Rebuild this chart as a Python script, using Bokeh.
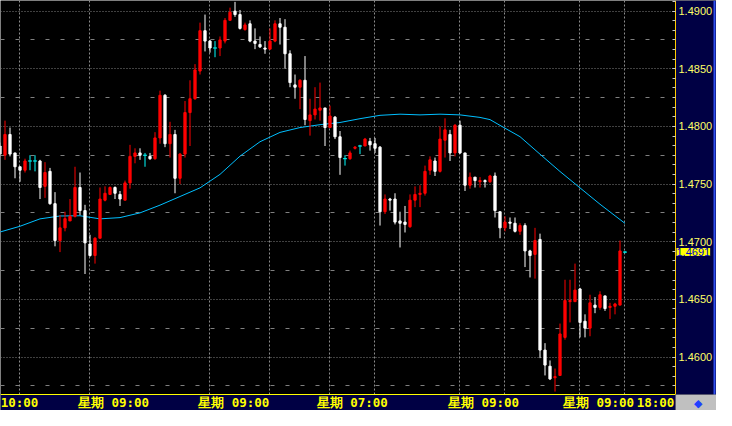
import numpy as np
from bokeh.plotting import figure
from bokeh.models import (ColumnDataSource, LinearAxis, FixedTicker, SingleIntervalTicker,
                          Grid, Label, Range1d, PrintfTickFormatter, BoxAnnotation)
from bokeh.embed import file_html
from bokeh.resources import INLINE

# ---------------- data ----------------
opens = [1.4783, 1.4775, 1.4793, 1.4777, 1.4765, 1.4762, 1.4770, 1.4770, 1.4770, 1.4748,
         1.4761, 1.4733, 1.4701, 1.4712, 1.4718, 1.4722, 1.4747, 1.4727, 1.4698, 1.4688,
         1.4703, 1.4736, 1.4741, 1.4747, 1.4741, 1.4736, 1.4751, 1.4774, 1.4777, 1.4775,
         1.4774, 1.4772, 1.4790, 1.4827, 1.4785, 1.4793, 1.4755, 1.4776, 1.4812, 1.4824,
         1.4848, 1.4883, 1.4874, 1.4868, 1.4868, 1.4874, 1.4892, 1.4900, 1.4897, 1.4884,
         1.4889, 1.4874, 1.4871, 1.4868, 1.4867, 1.4874, 1.4889, 1.4886, 1.4863, 1.4836,
         1.4834, 1.4840, 1.4805, 1.4810, 1.4814, 1.4816, 1.4799, 1.4808, 1.4791, 1.4772,
         1.4772, 1.4781, 1.4783, 1.4783, 1.4787, 1.4785, 1.4782, 1.4726, 1.4737, 1.4737,
         1.4718, 1.4717, 1.4713, 1.4736, 1.4741, 1.4742, 1.4762, 1.4770, 1.4761, 1.4788,
         1.4793, 1.4777, 1.4801, 1.4777, 1.4749, 1.4756, 1.4752, 1.4753, 1.4752, 1.4757,
         1.4726, 1.4712, 1.4717, 1.4716, 1.4709, 1.4714, 1.4692, 1.4689, 1.4702, 1.4606,
         1.4592, 1.4582, 1.4584, 1.4617, 1.4648, 1.4648, 1.4659, 1.4631, 1.4625, 1.4645,
         1.4643, 1.4653, 1.4643, 1.4644, 1.4645, 1.4691]
highs = [1.4786, 1.4805, 1.4799, 1.4777, 1.4765, 1.4772, 1.4775, 1.4775, 1.4771, 1.4769,
         1.4764, 1.4743, 1.4723, 1.4726, 1.4737, 1.4765, 1.4760, 1.4732, 1.4706, 1.4704,
         1.4747, 1.4748, 1.4748, 1.4748, 1.4744, 1.4753, 1.4784, 1.4781, 1.4781, 1.4777,
         1.4777, 1.4795, 1.4831, 1.4828, 1.4804, 1.4797, 1.4777, 1.4822, 1.4840, 1.4854,
         1.4890, 1.4897, 1.4875, 1.4874, 1.4878, 1.4894, 1.4903, 1.4908, 1.4901, 1.4890,
         1.4892, 1.4885, 1.4878, 1.4874, 1.4885, 1.4892, 1.4894, 1.4893, 1.4866, 1.4845,
         1.4841, 1.4861, 1.4824, 1.4834, 1.4838, 1.4816, 1.4818, 1.4809, 1.4796, 1.4775,
         1.4779, 1.4783, 1.4784, 1.4790, 1.4790, 1.4790, 1.4783, 1.4741, 1.4738, 1.4742,
         1.4726, 1.4731, 1.4741, 1.4748, 1.4749, 1.4766, 1.4774, 1.4773, 1.4800, 1.4807,
         1.4797, 1.4802, 1.4805, 1.4777, 1.4760, 1.4756, 1.4756, 1.4754, 1.4758, 1.4760,
         1.4726, 1.4722, 1.4721, 1.4721, 1.4716, 1.4716, 1.4693, 1.4712, 1.4707, 1.4612,
         1.4597, 1.4590, 1.4629, 1.4667, 1.4667, 1.4681, 1.4660, 1.4637, 1.4654, 1.4652,
         1.4657, 1.4653, 1.4647, 1.4647, 1.4701, 1.4692]
lows = [1.4774, 1.4771, 1.4774, 1.4755, 1.4752, 1.4760, 1.4762, 1.4761, 1.4737, 1.4738,
        1.4732, 1.4696, 1.4691, 1.4709, 1.4718, 1.4721, 1.4723, 1.4672, 1.4687, 1.4681,
        1.4703, 1.4735, 1.4741, 1.4737, 1.4731, 1.4736, 1.4746, 1.4768, 1.4771, 1.4765,
        1.4771, 1.4771, 1.4785, 1.4782, 1.4773, 1.4742, 1.4750, 1.4773, 1.4783, 1.4823,
        1.4845, 1.4865, 1.4864, 1.4860, 1.4861, 1.4872, 1.4892, 1.4895, 1.4884, 1.4883,
        1.4873, 1.4867, 1.4868, 1.4863, 1.4867, 1.4873, 1.4871, 1.4850, 1.4834, 1.4824,
        1.4815, 1.4801, 1.4792, 1.4806, 1.4805, 1.4783, 1.4799, 1.4789, 1.4758, 1.4766,
        1.4771, 1.4780, 1.4776, 1.4783, 1.4779, 1.4777, 1.4714, 1.4724, 1.4727, 1.4715,
        1.4695, 1.4708, 1.4712, 1.4730, 1.4730, 1.4740, 1.4758, 1.4757, 1.4760, 1.4773,
        1.4770, 1.4774, 1.4776, 1.4744, 1.4746, 1.4747, 1.4747, 1.4747, 1.4751, 1.4721,
        1.4703, 1.4709, 1.4711, 1.4708, 1.4706, 1.4678, 1.4669, 1.4668, 1.4599, 1.4584,
        1.4580, 1.4570, 1.4584, 1.4615, 1.4630, 1.4648, 1.4617, 1.4617, 1.4618, 1.4638,
        1.4641, 1.4640, 1.4633, 1.4637, 1.4645, 1.4690]
closes = [1.4776, 1.4793, 1.4776, 1.4765, 1.4762, 1.4770, 1.4770, 1.4770, 1.4747, 1.4760,
          1.4733, 1.4701, 1.4712, 1.4720, 1.4722, 1.4747, 1.4727, 1.4699, 1.4688, 1.4703,
          1.4737, 1.4742, 1.4747, 1.4742, 1.4737, 1.4751, 1.4774, 1.4777, 1.4775, 1.4775,
          1.4772, 1.4790, 1.4827, 1.4785, 1.4793, 1.4755, 1.4776, 1.4812, 1.4824, 1.4849,
          1.4883, 1.4874, 1.4868, 1.4868, 1.4875, 1.4892, 1.4899, 1.4897, 1.4885, 1.4888,
          1.4874, 1.4872, 1.4869, 1.4867, 1.4874, 1.4889, 1.4886, 1.4863, 1.4838, 1.4834,
          1.4840, 1.4806, 1.4810, 1.4815, 1.4816, 1.4799, 1.4809, 1.4791, 1.4773, 1.4772,
          1.4777, 1.4782, 1.4783, 1.4789, 1.4784, 1.4781, 1.4726, 1.4737, 1.4736, 1.4717,
          1.4716, 1.4715, 1.4736, 1.4741, 1.4742, 1.4761, 1.4771, 1.4761, 1.4789, 1.4797,
          1.4777, 1.4801, 1.4777, 1.4749, 1.4756, 1.4753, 1.4753, 1.4752, 1.4757, 1.4727,
          1.4712, 1.4717, 1.4716, 1.4709, 1.4714, 1.4692, 1.4688, 1.4701, 1.4606, 1.4593,
          1.4581, 1.4583, 1.4620, 1.4649, 1.4649, 1.4658, 1.4630, 1.4625, 1.4647, 1.4643,
          1.4654, 1.4642, 1.4644, 1.4646, 1.4692, 1.4691]

# moving average line (bar index, value)
ma_index = [0, 4, 8, 12, 16, 20, 24, 28, 32, 36, 40, 44, 48, 52, 56, 60, 64, 68, 72, 76,
            80, 84, 88, 92, 96, 98, 100, 104, 108, 112, 116, 120, 124, 125]
ma_values = [1.47084, 1.47134, 1.47198, 1.47223, 1.47225, 1.47198, 1.47209, 1.47250,
             1.47317, 1.47392, 1.47467, 1.47584, 1.47742, 1.47867, 1.47948, 1.47990,
             1.48015, 1.48034, 1.48067, 1.48096, 1.48106, 1.48100, 1.48106, 1.48100,
             1.48078, 1.48059, 1.48009, 1.47911, 1.47759, 1.47609, 1.47467, 1.47325,
             1.47192, 1.47159]

last_price = 1.4691
mid_levels = [1.4575, 1.4625, 1.4675, 1.4725, 1.4775, 1.4825, 1.4875]
time_labels = ["10:00", "星期 09:00", "星期 09:00", "星期 07:00", "星期 09:00", "星期 09:00", "18:00"]
time_label_pos = [3.9, 22.7, 46.76, 70.46, 96.7, 119.7, 131.1]
time_grid_pos = [3.8, 17.8, 41.8, 53.8, 65.8, 74.8, 91.8, 100.8, 115.8, 124.8]

# ---------------- layout / styling ----------------
UP, DOWN, DOJI = "#ff0000", "#ffffff", "#00ffff"
NAVY = "#000044"
GRID = "#808080"
X0, X1, XE = 0.1, 135.1, 143.3          # chart left, chart right (price scale), canvas right
Y1, Y0, YB = 1.49092, 1.45675, 1.45536   # chart top, chart bottom (time scale), canvas bottom

colors = [UP if c > o else (DOWN if c < o else DOJI) for o, c in zip(opens, closes)]
idx = list(range(len(opens)))
src = ColumnDataSource(dict(x=idx, high=highs, low=lows, color=colors))

body = [i for i in idx if opens[i] != closes[i]]
body_src = ColumnDataSource(dict(
    x=body,
    top=[max(opens[i], closes[i]) for i in body],
    bottom=[min(opens[i], closes[i]) for i in body],
    color=[colors[i] for i in body]))
doji = [i for i in idx if opens[i] == closes[i]]
doji_src = ColumnDataSource(dict(x=doji, y=[closes[i] for i in doji]))

p = figure(width=716, height=410, output_backend="svg", toolbar_location=None,
           x_range=Range1d(X0, XE), y_range=Range1d(YB, Y1),
           x_axis_location=None, y_axis_location=None,
           background_fill_color="#000000", border_fill_color=NAVY,
           outline_line_color=None, min_border=0)
# drop any default grids
p.center = [r for r in p.center if not isinstance(r, Grid)]

# grids
yticker = SingleIntervalTicker(interval=0.005, num_minor_ticks=6)
p.add_layout(Grid(dimension=1, ticker=yticker, grid_line_color=GRID, grid_line_dash="1 2"))
p.add_layout(Grid(dimension=1, ticker=FixedTicker(ticks=mid_levels),
                  grid_line_color=GRID, grid_line_dash="4 11"))
p.add_layout(Grid(dimension=0, ticker=FixedTicker(ticks=time_grid_pos),
                  grid_line_color="#8c8c8c", grid_line_width=1, grid_line_dash="2 2"))

# scale panels (navy) to the right of and below the chart
p.quad(left=[X1], right=[XE], bottom=[YB], top=[Y1], fill_color=NAVY, line_color=None)
p.quad(left=[X0], right=[XE], bottom=[YB], top=[Y0], fill_color=NAVY, line_color=None)
p.segment(x0=[142.9], y0=[YB], x1=[142.9], y1=[Y1], line_color="#3050f0", line_width=2)

# axes, pinned at the chart edges
xaxis = LinearAxis(ticker=FixedTicker(ticks=time_label_pos), fixed_location=Y0, bounds=(X0, X1),
                   major_label_overrides={pos: lab for pos, lab in zip(time_label_pos, time_labels)},
                   axis_line_color="#ffff00", axis_line_width=1,
                   major_tick_line_color=None, minor_tick_line_color=None,
                   major_label_text_color="#ffff00",
                   major_label_text_font="DejaVu Sans Mono",
                   major_label_text_font_style="bold", major_label_text_font_size="12.5px",
                   major_label_standoff=-5)
p.add_layout(xaxis, "below")

yaxis = LinearAxis(ticker=yticker, formatter=PrintfTickFormatter(format="%.4f"),
                   fixed_location=X1, bounds=(Y0, Y1),
                   axis_line_color="#ffcc00", axis_line_width=1,
                   major_tick_in=3, major_tick_out=0, minor_tick_in=3, minor_tick_out=0,
                   major_tick_line_color="#c8c8c8", minor_tick_line_color="#c8c8c8",
                   major_label_text_color="#ffff66", major_label_text_font="Liberation Sans",
                   major_label_text_font_size="11px", major_label_standoff=3)
p.add_layout(yaxis, "right")

# moving average
p.line(ma_index, ma_values, line_color="#00bfff", line_width=1)

# candles
p.segment(x0="x", y0="high", x1="x", y1="low", line_color="color", line_width=1, source=src)
p.vbar(x="x", width=0.45, top="top", bottom="bottom", fill_color="color",
       line_color="color", line_width=1, source=body_src)
p.dash(x="x", y="y", size=4, line_color=DOJI, line_width=1, source=doji_src)

# current price tag on the price scale
p.add_layout(Label(x=X1, y=last_price, x_offset=1, text=f"{last_price:.4f}",
                   text_color="#0000cc", text_font="Liberation Sans", text_font_size="11px",
                   text_baseline="middle", background_fill_color="#ffff00"))
# corner box
p.add_layout(BoxAnnotation(left=X1, right=XE, bottom=YB, top=Y0, fill_color="#c0c0c0",
                           fill_alpha=1.0, line_color="#404040", line_width=1))
p.add_layout(Label(x=X1, y=YB, x_offset=22, y_offset=2, text="\u25c6", text_align="center",
                   text_color="#2040ff", text_font_size="11px"))

open("out.html", "w").write(file_html(p, INLINE))
